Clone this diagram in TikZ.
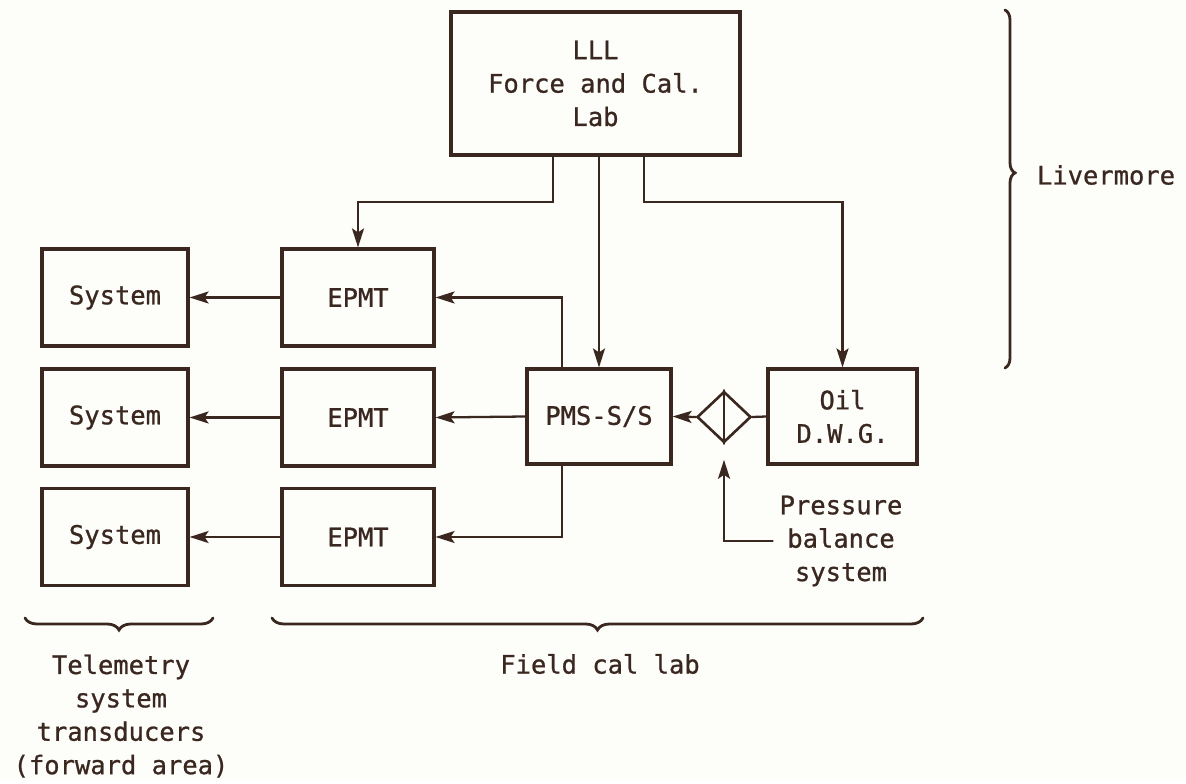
\documentclass[tikz,border=0pt]{standalone}
\usepackage{fontspec}
\newfontfamily\gothic[FakeBold=0.9]{DejaVu Sans Mono}
\usepackage{tikz}
\usetikzlibrary{arrows.meta,calc,shapes.geometric,decorations.pathreplacing}
\usepackage{xcolor}
\definecolor{ink}{RGB}{58,40,32}
\definecolor{paper}{RGB}{253,253,250}

\begin{document}
\begin{tikzpicture}[x=0.02cm,y=-0.02cm,>={Stealth[length=3.8mm,width=2.4mm,inset=0.8mm]},
  font=\gothic\fontsize{14.5}{19}\selectfont,line cap=round,color=ink,text=ink,line width=1.3pt,
  box/.style={draw,line width=1.8pt,align=center,inner sep=0pt,minimum height=1.94cm},
  brc/.style={decorate,decoration={brace,amplitude=0.24cm},line width=1.6pt}]
\fill[paper] (0,0) rectangle (1186,779);
\node[box,minimum width=5.78cm,minimum height=2.86cm] (lab) at (595.5,83.5) {LLL\\Force and Cal.\\Lab};
\node[box,minimum width=3.04cm] (epmtA) at (358,297.5) {EPMT};
\node[box,minimum width=3.04cm] (epmtB) at (358,417.5) {EPMT};
\node[box,minimum width=3.04cm] (epmtC) at (358,537) {EPMT};
\node[box,minimum width=2.92cm] (sysA) at (115,297.5) {System};
\node[box,minimum width=2.92cm] (sysB) at (115,417.5) {System};
\node[box,minimum width=2.92cm] (sysC) at (115,537) {System};
\node[box,minimum width=2.88cm,minimum height=1.9cm] (pms) at (599,416.5) {PMS-S/S};
\node[box,minimum width=2.98cm,minimum height=1.9cm] (oil) at (842.5,416.5) {Oil\\D.W.G.};
\node[draw,diamond,line width=1.5pt,minimum width=1.08cm,minimum height=1.02cm,inner sep=0pt] (dia) at (724,417) {};
\node[align=center] (press) at (841,541) {Pressure\\balance\\system};
\node[align=center] (tele) at (121,716) {Telemetry\\system\\transducers\\(forward area)};
\node (field) at (600,664) {Field cal lab};
\node[anchor=west] (liv) at (1030,175) {Livermore};
\coordinate (tapA) at (553,202);
\coordinate (tapC) at (644,202);
\draw[->] (lab.south -| tapA) -- (tapA) -| (epmtA.north);
\draw[->] (lab.south -| pms.north) -- (pms.north);
\draw[->] (lab.south -| tapC) -- (tapC) -| (oil.north);
\draw[->] ($(pms.north west)!0.25!(pms.north east)$) |- (epmtA.east);
\draw[->] (pms.west) -- (epmtB.east);
\draw[->] ($(pms.south west)!0.25!(pms.south east)$) |- (epmtC.east);
\foreach \r in {A,B,C}
  \draw[->] (epmt\r.west) -- (sys\r.east);
\draw (oil.west) -- (dia.east);
\draw[->] (dia.west) -- (pms.east);
\draw (dia.north) -- (dia.south);
\draw[->] (press.west) -| ($(dia.south)+(0,16)$);
\draw[brc] (213,618) -- (25,618);
\draw[brc] (923,618) -- (272,618);
\draw[brc,decoration={amplitude=0.2cm,aspect=0.455}] (1005,10) -- (1005,368);
\end{tikzpicture}
\end{document}
